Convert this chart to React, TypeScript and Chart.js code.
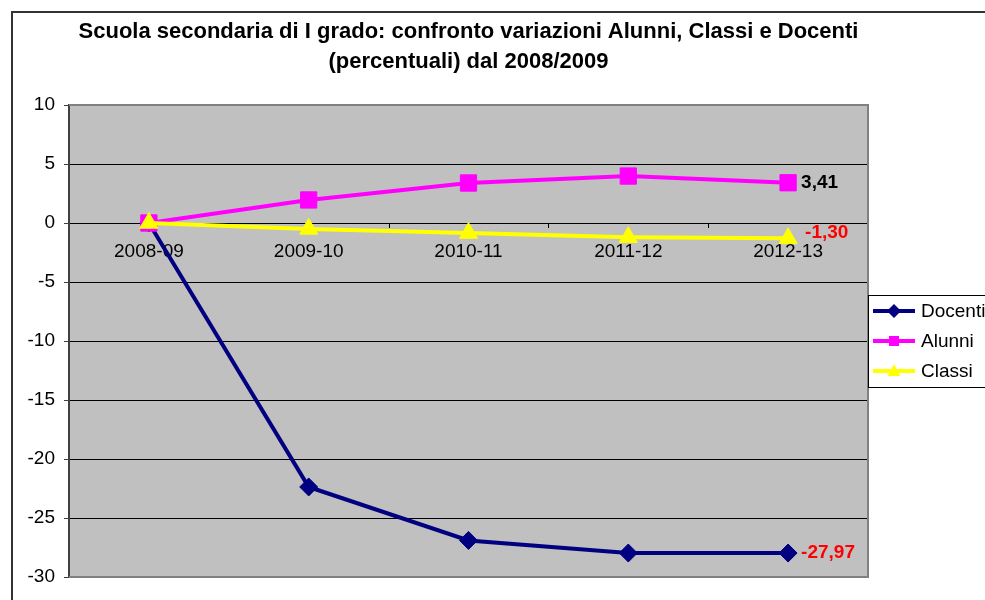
import React, { useEffect, useRef } from "react";
import { Chart, registerables } from "chart.js";

Chart.register(...registerables);

const categories = ["2008-09", "2009-10", "2010-11", "2011-12", "2012-13"];
const docenti = [0, -22.37, -26.9, -27.97, -27.97];
const alunni = [0, 1.95, 3.39, 3.98, 3.41];
const classi = [0, -0.5, -0.85, -1.2, -1.3];
const seriesNames = ["Docenti", "Alunni", "Classi"];
const seriesColors = ["#000080", "#FF00FF", "#FFFF00"];
const lastLabels = ["-27,97", "3,41", "-1,30"];
const lastLabelColors = ["#FF0000", "#000000", "#FF0000"];
const titleLines = [
  "Scuola secondaria di I grado: confronto variazioni Alunni, Classi e Docenti",
  "(percentuali) dal 2008/2009",
];
const yMin = -30;
const yMax = 10;
const yStep = 5;

const FONT = "Arial, 'Liberation Sans', sans-serif";

function drawMarker(ctx: CanvasRenderingContext2D, style: string, x: number, y: number, r: number, color: string) {
  ctx.save();
  ctx.fillStyle = color;
  ctx.beginPath();
  if (style === "rectRot") {
    ctx.moveTo(x, y - r);
    ctx.lineTo(x + r, y);
    ctx.lineTo(x, y + r);
    ctx.lineTo(x - r, y);
  } else if (style === "rect") {
    ctx.rect(x - r, y - r, 2 * r, 2 * r);
  } else {
    ctx.moveTo(x, y - r);
    ctx.lineTo(x + r * 0.9, y + r * 0.7);
    ctx.lineTo(x - r * 0.9, y + r * 0.7);
  }
  ctx.closePath();
  ctx.fill();
  ctx.restore();
}

const decorPlugin = {
  id: "decor",
  beforeDraw(chart: any) {
    const { ctx, chartArea: a } = chart;
    ctx.save();
    ctx.fillStyle = "#FFFFFF";
    ctx.fillRect(0, 0, chart.width, chart.height);
    ctx.strokeStyle = "#333333";
    ctx.lineWidth = 2;
    ctx.strokeRect(12, 12, chart.width + 20, chart.height + 20);
    ctx.fillStyle = "#C0C0C0";
    ctx.fillRect(a.left, a.top, a.right - a.left, a.bottom - a.top);
    ctx.restore();
  },
  beforeDatasetsDraw(chart: any) {
    const { ctx, chartArea: a, scales } = chart;
    const x = scales.x;
    const y = scales.y;
    ctx.save();
    ctx.strokeStyle = "#808080";
    ctx.lineWidth = 2;
    ctx.beginPath();
    ctx.moveTo(a.left, a.top);
    ctx.lineTo(a.right, a.top);
    ctx.lineTo(a.right, a.bottom);
    ctx.lineTo(a.left, a.bottom);
    ctx.stroke();
    const y0 = y.getPixelForValue(0);
    ctx.strokeStyle = "#000000";
    ctx.lineWidth = 1;
    const n = categories.length;
    const w = (a.right - a.left) / n;
    ctx.beginPath();
    for (let i = 1; i < n; i++) {
      const px = Math.round(a.left + w * i) + 0.5;
      ctx.moveTo(px, y0);
      ctx.lineTo(px, y0 + 5);
    }
    ctx.stroke();
    ctx.fillStyle = "#000000";
    ctx.font = `19px ${FONT}`;
    ctx.textAlign = "center";
    ctx.textBaseline = "middle";
    categories.forEach((c, i) => {
      ctx.fillText(c, x.getPixelForValue(i), y0 + 29);
    });
    ctx.restore();
  },
  afterDatasetsDraw(chart: any) {
    const { ctx } = chart;
    ctx.save();
    ctx.font = `bold 19px ${FONT}`;
    ctx.textAlign = "left";
    ctx.textBaseline = "middle";
    const offsets = [0, 0, -6];
    const dx = [13, 13, 17];
    chart.data.datasets.forEach((ds: any, i: number) => {
      const meta = chart.getDatasetMeta(i);
      const pt = meta.data[meta.data.length - 1];
      ctx.fillStyle = lastLabelColors[i];
      ctx.fillText(lastLabels[i], pt.x + dx[i], pt.y + offsets[i]);
    });
    ctx.restore();
  },
  afterDraw(chart: any) {
    const { ctx, chartArea: a } = chart;
    ctx.save();
    ctx.fillStyle = "#000000";
    ctx.font = `bold 22px ${FONT}`;
    ctx.textAlign = "center";
    ctx.textBaseline = "middle";
    const cx = (a.left + a.right) / 2;
    ctx.fillText(titleLines[0], cx, 32);
    ctx.fillText(titleLines[1], cx, 62);
    const lx = 868;
    const ly = 295;
    ctx.fillStyle = "#FFFFFF";
    ctx.fillRect(lx, ly, 130, 92);
    ctx.strokeStyle = "#000000";
    ctx.lineWidth = 1;
    ctx.strokeRect(lx + 0.5, ly + 0.5, 130, 92);
    const rows = [311, 341, 371];
    const styles = ["rectRot", "rect", "triangle"];
    const radii = [7, 5, 7];
    seriesNames.forEach((name, i) => {
      const yy = rows[i];
      ctx.strokeStyle = seriesColors[i];
      ctx.lineWidth = 4;
      ctx.beginPath();
      ctx.moveTo(873, yy);
      ctx.lineTo(915, yy);
      ctx.stroke();
      drawMarker(ctx, styles[i], 894, yy, radii[i], seriesColors[i]);
      ctx.fillStyle = "#000000";
      ctx.font = `19px ${FONT}`;
      ctx.textAlign = "left";
      ctx.textBaseline = "middle";
      ctx.fillText(name, 921, yy + 1);
    });
    ctx.restore();
  },
};

export default function App() {
  const ref = useRef<HTMLCanvasElement | null>(null);
  useEffect(() => {
    if (!ref.current) return;
    const mk = (label: string, data: number[], color: string, style: string, radius: number, order: number) => ({
      label,
      data,
      borderColor: color,
      backgroundColor: color,
      borderWidth: 4,
      pointStyle: style,
      pointRadius: radius,
      pointBorderWidth: 1,
      pointBorderColor: color,
      pointBackgroundColor: color,
      tension: 0,
      order,
    });
    const chart = new Chart(ref.current, {
      type: "line",
      data: {
        labels: categories,
        datasets: [
          mk(seriesNames[0], docenti, seriesColors[0], "rectRot", 9, 2),
          mk(seriesNames[1], alunni, seriesColors[1], "rect", 11.5, 1),
          mk(seriesNames[2], classi, seriesColors[2], "triangle", 10.5, 0),
        ],
      },
      plugins: [decorPlugin],
      options: {
        responsive: false,
        animation: false,
        events: [],
        layout: { padding: { left: 0, right: 117, top: 105, bottom: 23 } },
        plugins: {
          legend: { display: false },
          title: { display: false },
          tooltip: { enabled: false },
        },
        scales: {
          x: { display: false, offset: true },
          y: {
            min: yMin,
            max: yMax,
            afterFit: (s: any) => {
              s.width = 69;
            },
            ticks: {
              stepSize: yStep,
              color: "#000000",
              font: { family: FONT, size: 19 },
              padding: 9,
            },
            grid: {
              color: "#000000",
              lineWidth: 1,
              tickLength: 5,
              tickColor: "#404040",
            },
            border: { display: true, color: "#404040", width: 2 },
          },
        },
      } as any,
    });
    return () => chart.destroy();
  }, []);
  return (
    <div style={{ position: "fixed", left: 0, top: 0, width: 985, height: 600 }}>
      <canvas ref={ref} width={985} height={600} style={{ width: 985, height: 600 }} />
    </div>
  );
}
